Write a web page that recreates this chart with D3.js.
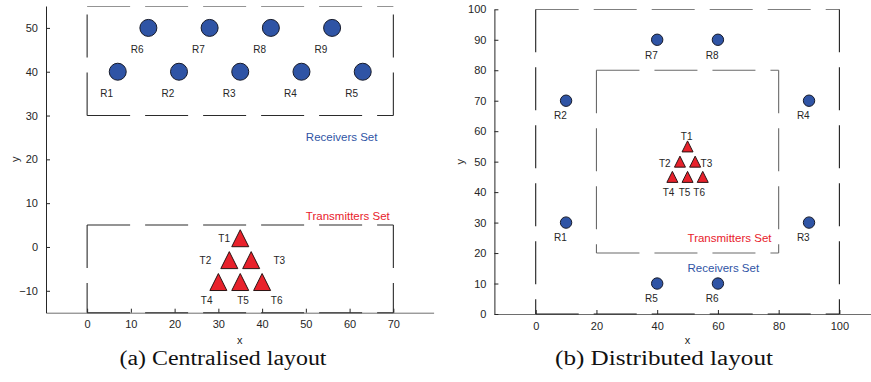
<!DOCTYPE html>
<html>
<head>
<meta charset="utf-8">
<script src="https://cdn.jsdelivr.net/npm/d3@7"></script>
<style>
  body { margin: 0; background: #fff; }
</style>
</head>
<body>
<script>
// ---- data ----
// (a) centralised layout
const cenRxNames = ["R1", "R2", "R3", "R4", "R5", "R6", "R7", "R8", "R9"];
const cenRxX = [7, 21, 35, 49, 63, 14, 28, 42, 56];
const cenRxY = [40, 40, 40, 40, 40, 50, 50, 50, 50];
const cenTxNames = ["T1", "T2", "T3", "T4", "T5", "T6"];
const cenTxX = [35, 32.5, 37.5, 30, 35, 40];
const cenTxY = [2, -3, -3, -8, -8, -8];
// label anchors (data units, left edge / middle)
const cenTxLabelX = [30, 25.7, 42.6, 26, 34.3, 42];
const cenTxLabelY = [2, -3, -3, -12.2, -12.2, -12.2];
const cenXTicks = [0, 10, 20, 30, 40, 50, 60, 70];
const cenYTicks = [-10, 0, 10, 20, 30, 40, 50];

// (b) distributed layout
const disRxNames = ["R1", "R2", "R3", "R4", "R5", "R6", "R7", "R8"];
const disRxX = [10, 10, 90, 90, 40, 60, 40, 60];
const disRxY = [30, 70, 30, 70, 10, 10, 90, 90];
const disTxNames = ["T1", "T2", "T3", "T4", "T5", "T6"];
const disTxX = [50, 47.5, 52.5, 45, 50, 55];
const disTxY = [55, 50, 50, 45, 45, 45];
const disTxLabelX = [47.8, 40.6, 54.3, 41.8, 47.1, 51.9];
const disTxLabelY = [58.2, 49.5, 49.5, 40, 40, 40];
const disXTicks = [0, 20, 40, 60, 80, 100];
const disYTicks = [0, 10, 20, 30, 40, 50, 60, 70, 80, 90, 100];

const BLUE = "#2f54a5", RED = "#e8212b", AX = "#262626";
const SANS = "'Liberation Sans', Arial, sans-serif";
const SERIF = "'Liberation Serif', 'Times New Roman', serif";

const svg = d3.select("body").append("svg")
  .attr("width", 871)
  .attr("height", 382)
  .style("font-family", SANS);

function drawPanel(cfg) {
  const x = d3.scaleLinear().domain(cfg.xDomain).range(cfg.xRange);
  const y = d3.scaleLinear().domain(cfg.yDomain).range(cfg.yRange);
  const g = svg.append("g");

  const clipId = "clip" + cfg.id;
  g.append("clipPath").attr("id", clipId)
    .append("rect")
    .attr("x", cfg.xRange[0] - 2).attr("y", cfg.yRange[1])
    .attr("width", cfg.xRange[1] - cfg.xRange[0] + 4)
    .attr("height", cfg.yRange[0] - cfg.yRange[1] + 2);

  // axes: ticks point inward
  g.append("g")
    .attr("transform", `translate(0,${cfg.yRange[0]})`)
    .call(d3.axisBottom(x).tickValues(cfg.xTicks).tickSizeInner(-4).tickSizeOuter(0).tickPadding(8))
    .call(a => a.select(".domain").attr("stroke", "#6e6e6e"))
    .call(a => a.selectAll(".tick line").attr("stroke", AX))
    .call(a => a.selectAll("text").attr("fill", AX).style("font-size", "11px")
      .style("font-family", SANS));

  g.append("g")
    .attr("transform", `translate(${cfg.xRange[0]},0)`)
    .call(d3.axisLeft(y).tickValues(cfg.yTicks).tickSizeInner(-4).tickSizeOuter(0).tickPadding(8))
    .call(a => a.select(".domain").attr("stroke", AX))
    .call(a => a.selectAll(".tick line").attr("stroke", AX))
    .call(a => a.selectAll("text").attr("fill", AX).style("font-size", "11px")
      .style("font-family", SANS));

  // axis labels
  g.append("text")
    .attr("x", (cfg.xRange[0] + cfg.xRange[1]) / 2).attr("y", 344)
    .attr("text-anchor", "middle").style("font-size", "11px").attr("fill", AX)
    .text("x");
  g.append("text")
    .attr("transform", `translate(${cfg.yLabelX},${(cfg.yRange[0] + cfg.yRange[1]) / 2}) rotate(-90)`)
    .attr("text-anchor", "middle").attr("dy", "0.35em")
    .style("font-size", "11px").attr("fill", AX)
    .text("y");

  // dashed region boxes
  const boxes = g.append("g").attr("clip-path", `url(#${clipId})`)
    .attr("fill", "none").attr("stroke-dasharray", "43,15");
  cfg.boxes.forEach(b => {
    const [x0, y0, x1, y1] = b.rect;
    const segs = [
      [x0, y1, x1, y1], [x0, y0, x1, y0],
      b.upward ? [x0, y0, x0, y1] : [x0, y1, x0, y0],
      b.upward ? [x1, y0, x1, y1] : [x1, y1, x1, y0]
    ];
    segs.forEach(s => {
      boxes.append("line")
        .attr("x1", x(s[0])).attr("y1", y(s[1]))
        .attr("x2", x(s[2])).attr("y2", y(s[3]))
        .attr("stroke", b.color).attr("stroke-width", 1.1);
    });
  });

  // set captions
  cfg.setLabels.forEach(s => {
    g.append("text")
      .attr("x", x(s.x)).attr("y", y(s.y)).attr("dy", "0.35em")
      .style("font-size", "11.5px").attr("fill", s.color)
      .text(s.text);
  });

  // receivers
  const rx = cfg.rxNames.map((n, i) => ({ name: n, x: cfg.rxX[i], y: cfg.rxY[i] }));
  g.selectAll(".rx").data(rx).enter().append("circle")
    .attr("class", "rx")
    .attr("cx", d => x(d.x)).attr("cy", d => y(d.y))
    .attr("r", cfg.rxR)
    .attr("fill", BLUE).attr("stroke", "#161a2a").attr("stroke-width", 1);
  g.selectAll(".rxl").data(rx).enter().append("text")
    .attr("class", "rxl")
    .attr("x", d => x(d.x - 4)).attr("y", d => y(d.y - 5)).attr("dy", "0.35em")
    .style("font-size", "10px").attr("fill", AX)
    .text(d => d.name);

  // transmitters
  const tx = cfg.txNames.map((n, i) => ({
    name: n, x: cfg.txX[i], y: cfg.txY[i], lx: cfg.txLX[i], ly: cfg.txLY[i]
  }));
  const h = cfg.txSize / 2;
  g.selectAll(".tx").data(tx).enter().append("path")
    .attr("class", "tx")
    .attr("d", d => {
      const cx = x(d.x), cy = y(d.y);
      return `M${cx},${cy - h}L${cx + h},${cy + h}L${cx - h},${cy + h}Z`;
    })
    .attr("fill", RED).attr("stroke", "#2a1414").attr("stroke-width", 1);
  g.selectAll(".txl").data(tx).enter().append("text")
    .attr("class", "txl")
    .attr("x", d => x(d.lx)).attr("y", d => y(d.ly)).attr("dy", "0.35em")
    .style("font-size", "10px").attr("fill", AX)
    .text(d => d.name);

  // caption
  svg.append("text")
    .attr("x", cfg.capX).attr("y", 365)
    .attr("text-anchor", "middle")
    .style("font-family", SERIF)
    .style("font-size", "20px").attr("fill", "#111")
    .attr("textLength", cfg.capLen).attr("lengthAdjust", "spacingAndGlyphs")
    .text(cfg.caption);
}

drawPanel({
  id: "a",
  xDomain: [-9.4, 79.2], xRange: [46, 433.6],
  yDomain: [-15, 55], yRange: [312.7, 6],
  xTicks: cenXTicks, yTicks: cenYTicks, yLabelX: 15,
  boxes: [
    { rect: [0, 30, 70, 55], color: "#2b2b2b", upward: true },
    { rect: [0, -15, 70, 5], color: "#2b2b2b", upward: false }
  ],
  setLabels: [
    { text: "Receivers Set", x: 50, y: 25, color: BLUE },
    { text: "Transmitters Set", x: 50, y: 7, color: RED }
  ],
  rxNames: cenRxNames, rxX: cenRxX, rxY: cenRxY, rxR: 8.5,
  txNames: cenTxNames, txX: cenTxX, txY: cenTxY, txLX: cenTxLabelX, txLY: cenTxLabelY,
  txSize: 17,
  caption: "(a) Centralised layout", capX: 223, capLen: 207
});

drawPanel({
  id: "b",
  xDomain: [-13.6, 113.6], xRange: [494.4, 880.7],
  yDomain: [0, 100], yRange: [314, 9.3],
  xTicks: disXTicks, yTicks: disYTicks, yLabelX: 460,
  boxes: [
    { rect: [0, 0, 100, 100], color: "#1e1e1e", upward: false },
    { rect: [20, 20, 80, 80], color: "#6a6a6a", upward: false }
  ],
  setLabels: [
    { text: "Transmitters Set", x: 50, y: 25, color: RED },
    { text: "Receivers Set", x: 50, y: 15, color: BLUE }
  ],
  rxNames: disRxNames, rxX: disRxX, rxY: disRxY, rxR: 5.7,
  txNames: disTxNames, txX: disTxX, txY: disTxY, txLX: disTxLabelX, txLY: disTxLabelY,
  txSize: 11,
  caption: "(b) Distributed layout", capX: 664, capLen: 218
});
</script>
</body>
</html>
